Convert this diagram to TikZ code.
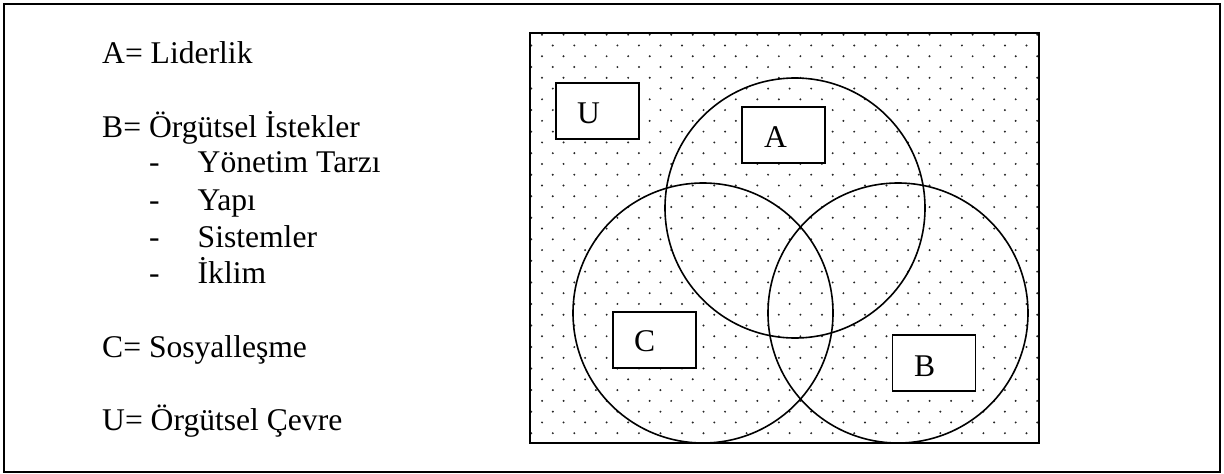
\documentclass[tikz,border=0pt]{standalone}
\usepackage{fontspec}
\setmainfont{Liberation Serif}
\begin{document}
\begin{tikzpicture}[x=1pt,y=-1pt,
  txt/.style={anchor=base west,inner sep=0pt,font=\fontsize{31.6}{36}\selectfont},
  vbox/.style={draw,line width=1.8pt,fill=white,minimum width=83pt,minimum height=56pt,inner sep=0pt},
  vcircle/.style={circle,draw,line width=1.6pt,minimum size=260pt,inner sep=0pt},
  dotc/.style={fill=black!85}]
\useasboundingbox (0,0) rectangle (1224,474);
% outer frame
\draw[line width=2.4pt] (4,4) rectangle (1220,472);
% legend
\node[txt] (la) at (102,63.5) {A= Liderlik};
\node[txt] (lb) at (102,137) {B= Örgütsel İstekler};
\node[txt] (d1) at (149,172.7) {-};
\node[txt] (l1) at (197.5,172.7) {Yönetim Tarzı};
\node[txt] (d2) at (149,210.5) {-};
\node[txt] (l2) at (197.5,210.5) {Yapı};
\node[txt] (d3) at (149,247.3) {-};
\node[txt] (l3) at (197.5,247.3) {Sistemler};
\node[txt] (d4) at (149,283.5) {-};
\node[txt] (l4) at (197.5,283.5) {İklim};
\node[txt] (lc) at (102,357.5) {C= Sosyalleşme};
\node[txt] (lu) at (102,430.5) {U= Örgütsel Çevre};
% dotted universe
\begin{scope}
\clip (530,33) rectangle (1039,443);
\foreach \j in {0,...,37}{
  \pgfmathsetmacro\yy{34.7+\j*10.77}
  \pgfmathsetmacro\xo{520.5+mod(\j,2)*10.77}
  \foreach \i in {0,...,24}{
    \fill[dotc] (\xo+\i*21.53,\yy) circle (1.1);
  }
}
\end{scope}
\draw[line width=2.2pt] (530,33) rectangle (1039,443);
% circles
\node[vcircle] (cA) at (795,208) {};
\node[vcircle] (cC) at (703,313) {};
\node[vcircle] (cB) at (898,313) {};
% boxes
\node[vbox] (bU) at (597.5,111) {};
\node[vbox] (bA) at (783.5,135) {};
\node[vbox] (bC) at (654.5,340) {};
\node[vbox] (bB) at (934,363) {};
\node[txt] (tU) at (577,123.3) {U};
\node[txt] (tA) at (764,147.3) {A};
\node[txt] (tC) at (634,351.7) {C};
\node[txt] (tB) at (914,376) {B};
\end{tikzpicture}
\end{document}
